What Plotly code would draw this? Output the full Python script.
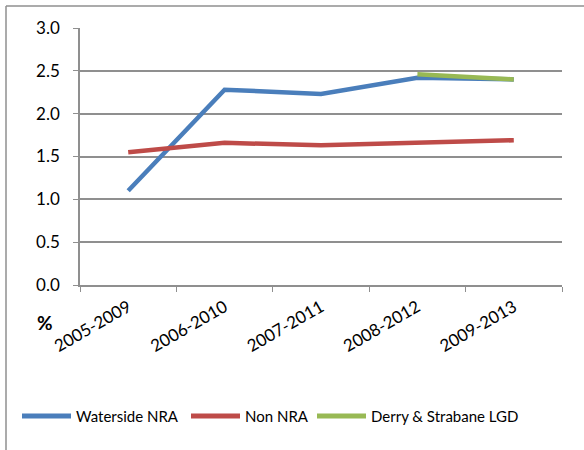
import plotly.graph_objects as go

periodes = ["2005-2009", "2006-2010", "2007-2011", "2008-2012", "2009-2013"]
waterside = [1.10, 2.28, 2.23, 2.42, 2.40]
non_nra = [1.55, 1.66, 1.63, 1.66, 1.69]
derry_lgd = [None, None, None, 2.46, 2.40]

series = [
    ("Waterside NRA", waterside, "#4A7EBB"),
    ("Non NRA", non_nra, "#BE4B48"),
    ("Derry & Strabane LGD", derry_lgd, "#98B954"),
]
# posisi legenda manual (px): awal garis
legenda_x = [22, 191, 317]
legenda_y = 416

L, R, T, B = 80, 22, 28, 165
W, H = 584, 450
pw, ph = W - L - R, H - T - B


def px_x(x):
    return (x - L) / pw


def px_y(y):
    return (T + ph - y) / ph


fig = go.Figure()
for nama, nilai, warna in series:
    fig.add_scatter(x=periodes, y=nilai, name=nama, mode="lines",
                    line=dict(color=warna, width=4.5), connectgaps=False,
                    showlegend=False)

grid = "#8f8f8f"
fig.update_layout(
    width=W, height=H, margin=dict(l=L, r=R, t=T, b=B, autoexpand=False),
    paper_bgcolor="white", plot_bgcolor="white",
    font=dict(family="Lato, 'Open Sans', sans-serif", size=15, color="black"),
    xaxis=dict(type="category", tickangle=-30, tickson="boundaries",
               ticks="outside", ticklen=5, tickcolor=grid, automargin=False,
               showline=True, linecolor=grid, linewidth=1.5,
               showgrid=False, range=[-0.5, 4.5], tickfont=dict(size=17),
               ticklabelshift=0, ticklabelstandoff=4),
    yaxis=dict(range=[0, 3.0], dtick=0.5, tickformat=".1f", automargin=False,
               ticks="outside", ticklen=5, tickcolor=grid,
               showline=True, linecolor=grid, linewidth=1.5,
               showgrid=True, gridcolor=grid, gridwidth=1.5,
               zeroline=False, tickfont=dict(size=17), ticklabelstandoff=10),
    showlegend=False,
)

fig.add_annotation(text="<b>%</b>", xref="paper", yref="paper",
                   x=px_x(45), y=px_y(322), xanchor="center", yanchor="middle",
                   showarrow=False, font=dict(size=19))

# legenda manual
for (nama, _, warna), x0 in zip(series, legenda_x):
    fig.add_shape(type="line", xref="paper", yref="paper",
                  x0=px_x(x0), x1=px_x(x0 + 49), y0=px_y(legenda_y),
                  y1=px_y(legenda_y), line=dict(color=warna, width=5))
    fig.add_annotation(text=nama, xref="paper", yref="paper",
                       x=px_x(x0 + 52), y=px_y(legenda_y), xanchor="left",
                       yanchor="middle", showarrow=False, font=dict(size=15))

# bingkai grafik (kiri & atas)
fig.add_shape(type="line", xref="paper", yref="paper",
              x0=px_x(6), x1=px_x(6), y0=px_y(452), y1=px_y(6),
              line=dict(color=grid, width=1.5))
fig.add_shape(type="line", xref="paper", yref="paper",
              x0=px_x(6), x1=px_x(590), y0=px_y(6), y1=px_y(6),
              line=dict(color=grid, width=1.5))

# tanpa margin bawaan body supaya grafik pas di jendela
fig.write_html(
    "out.html",
    config={"responsive": False, "displayModeBar": False},
    post_script=("document.body.style.margin='0';"
                 "document.body.style.overflow='hidden';"
                 "Plotly.relayout('{plot_id}', {width: %d, height: %d});" % (W, H)),
)
